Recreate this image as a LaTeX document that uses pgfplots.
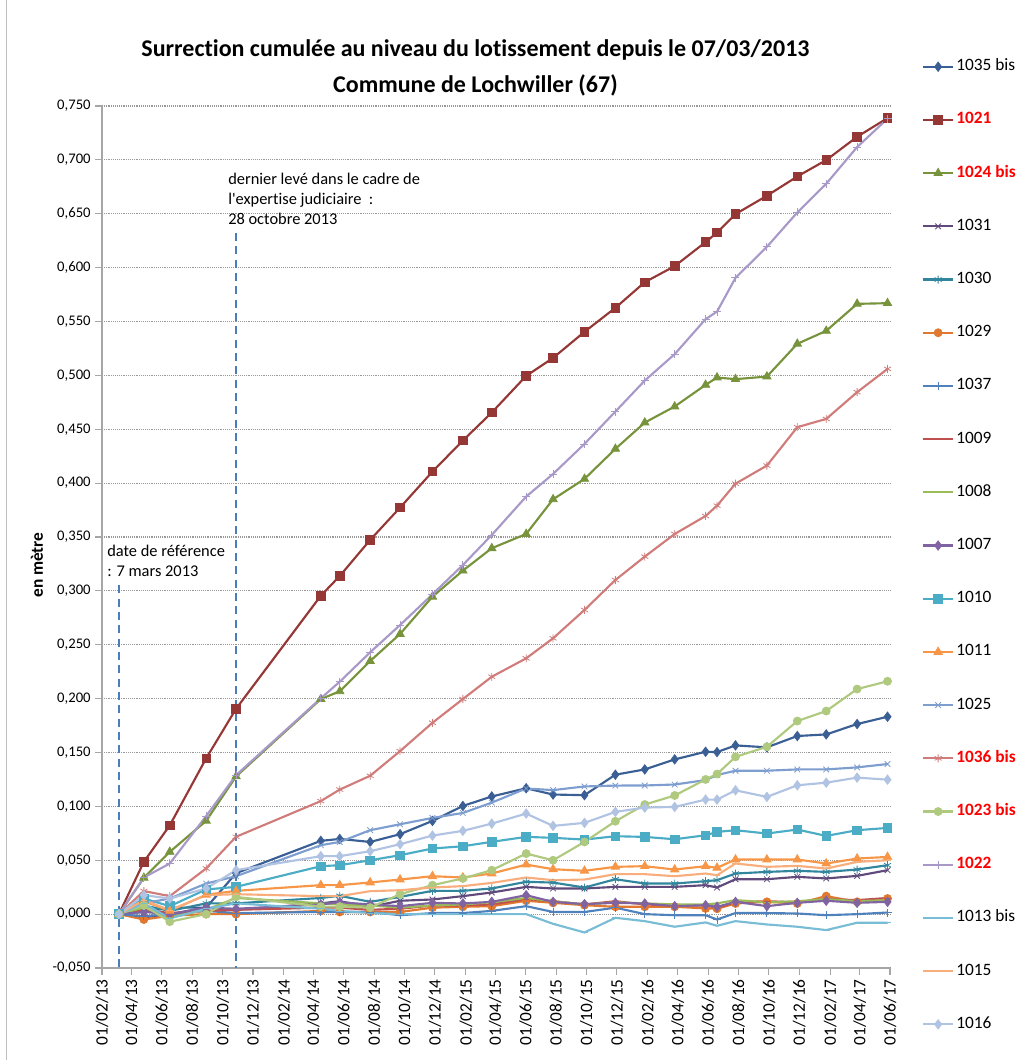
\documentclass[border=0pt]{standalone}
\usepackage{pgfplots}
\pgfplotsset{compat=1.18}
\usepackage{pgfplotstable}
\usepackage{fontspec}
\setmainfont{Carlito}[Ligatures={TeXOff,NoCommon}]
\definecolor{c1035}{HTML}{3A5F95}
\definecolor{c1021}{HTML}{953735}
\definecolor{c1024}{HTML}{77933C}
\definecolor{c1031}{HTML}{604A7B}
\definecolor{c1030}{HTML}{31859C}
\definecolor{c1029}{HTML}{E0782F}
\definecolor{c1037}{HTML}{4F81BD}
\definecolor{c1009}{HTML}{C0504D}
\definecolor{c1008}{HTML}{9BBB59}
\definecolor{c1007}{HTML}{8064A2}
\definecolor{c1010}{HTML}{4BACC6}
\definecolor{c1011}{HTML}{F79646}
\definecolor{c1025}{HTML}{7E9ECF}
\definecolor{c1036}{HTML}{D07C7A}
\definecolor{c1023}{HTML}{AFC97F}
\definecolor{c1022}{HTML}{A899C8}
\definecolor{c1013}{HTML}{78BCD6}
\definecolor{c1015}{HTML}{F8AE7C}
\definecolor{c1016}{HTML}{B1C3E2}
\definecolor{dashblue}{HTML}{4A7EBB}

\pgfplotstableread{
day a1035 a1021 a1024 a1031 a1030 a1029 a1037 a1009 a1008 a1007 a1010 a1011 a1025 a1036 a1023 a1022 a1013 a1015 a1016
34 0 0 0 0 0 0 0 0 0 0 0 0 0 0 0 0 0 0 0
84 0.002 0.0486 0.0337 -0.003 0.008 -0.005 -0.002 0.004 0.006 0.002 0.0145 0.012 0.010 0.0214 0.008 0.034 0.010 0.013 0.0176
136 0.006 0.0824 0.0578 0.000 0.003 -0.0015 0.000 0.001 -0.003 0.000 0.0074 0.003 0.0145 0.0167 -0.007 0.047 -0.004 0.0037 0.0145
209 0.006 0.1446 0.0866 0.006 0.010 0.000 0.003 0.003 0.004 0.006 0.0229 0.018 0.0284 0.0424 0.000 0.091 0.005 0.0176 0.0238
269 0.038 0.1906 0.1278 0.004 0.010 0.000 0.001 0.004 0.015 0.005 0.0253 0.0216 0.0352 0.0718 0.016 0.129 0.010 0.0185 0.0408
439 0.068 0.2955 0.1996 0.010 0.015 0.003 0.002 0.006 0.010 0.009 0.0445 0.0269 0.0640 0.1049 0.007 0.2003 0.005 0.0167 0.0538
477 0.0698 0.3138 0.2068 0.012 0.017 0.002 0.002 0.006 0.009 0.011 0.0454 0.0269 0.0670 0.1156 0.007 0.2157 0.003 0.0167 0.0538
538 0.067 0.3473 0.2349 0.0068 0.0114 0.002 0.002 0.004 0.008 0.009 0.0500 0.0294 0.0779 0.1284 0.006 0.2430 0.001 0.0213 0.0584
598 0.0742 0.3773 0.2600 0.0124 0.016 0.002 -0.001 0.005 0.006 0.0074 0.0547 0.0321 0.0834 0.1513 0.0185 0.2683 0.000 0.0222 0.0649
663 0.0865 0.4107 0.2946 0.0136 0.0216 0.006 0.001 0.008 0.008 0.0105 0.0609 0.0352 0.0893 0.1776 0.0269 0.2968 0.000 0.0247 0.0729
724 0.1004 0.4395 0.3188 0.0167 0.0216 0.0068 0.001 0.008 0.009 0.0099 0.0630 0.0340 0.0939 0.1996 0.0331 0.3240 0.000 0.0260 0.0773
782 0.1092 0.4655 0.3396 0.0201 0.0238 0.0074 0.003 0.009 0.011 0.0114 0.0671 0.0377 0.1035 0.2203 0.0408 0.3519 0.000 0.0290 0.0840
851 0.1168 0.4995 0.3528 0.0253 0.030 0.0124 0.0074 0.014 0.015 0.0176 0.0717 0.0460 0.1166 0.2374 0.0562 0.3875 0.000 0.0340 0.0933
905 0.1110 0.5162 0.3850 0.0238 0.0293 0.0105 0.002 0.012 0.012 0.0114 0.0708 0.0417 0.1151 0.2560 0.0500 0.4085 -0.009 0.0315 0.0819
968 0.1104 0.5404 0.4039 0.0238 0.0247 0.0083 0.002 0.009 0.009 0.0093 0.0692 0.0402 0.1185 0.2823 0.0670 0.4364 -0.017 0.0321 0.0847
1030 0.1294 0.5627 0.4318 0.0253 0.0324 0.0068 0.006 0.012 0.011 0.0105 0.0723 0.0439 0.1193 0.3101 0.0862 0.4664 -0.0034 0.0371 0.0949
1089 0.1343 0.5865 0.4562 0.0253 0.0284 0.0068 0.000 0.009 0.010 0.0099 0.0717 0.0445 0.1194 0.3318 0.1017 0.4952 -0.0065 0.0371 0.0989
1149 0.1436 0.6014 0.4711 0.0253 0.0284 0.0068 -0.001 0.008 0.009 0.0074 0.0695 0.0414 0.1203 0.3528 0.1101 0.5197 -0.0117 0.0352 0.0995
1211 0.1507 0.6237 0.4912 0.0269 0.0306 0.0053 -0.001 0.008 0.009 0.0083 0.0732 0.0445 0.1244 0.3695 0.1250 0.5522 -0.0077 0.0377 0.1063
1234 0.1504 0.6326 0.4980 0.0247 0.0315 0.005 -0.005 0.006 0.010 0.0068 0.0763 0.0430 0.1291 0.3791 0.1300 0.5592 -0.0108 0.0361 0.1063
1271 0.1566 0.6497 0.4965 0.0324 0.0377 0.0099 0.001 0.011 0.013 0.0114 0.0779 0.0507 0.1331 0.3995 0.1460 0.5905 -0.0065 0.0470 0.1149
1334 0.1548 0.6667 0.4989 0.0324 0.0392 0.0114 0.001 0.012 0.011 0.0074 0.0748 0.0507 0.1331 0.4163 0.1553 0.6193 -0.0096 0.0439 0.1088
1395 0.1653 0.6846 0.5293 0.0346 0.0402 0.0099 0.0006 0.011 0.012 0.0105 0.0785 0.0507 0.1343 0.4519 0.1792 0.6512 -0.0117 0.0448 0.1196
1453 0.1668 0.6998 0.5413 0.0331 0.0392 0.0167 -0.001 0.014 0.014 0.0124 0.0726 0.0470 0.1343 0.4596 0.1885 0.6778 -0.0148 0.0423 0.1220
1515 0.1764 0.7214 0.5664 0.0355 0.0414 0.0114 0.000 0.013 0.012 0.0105 0.0779 0.0516 0.1362 0.4844 0.2089 0.7119 -0.008 0.0485 0.1267
1576 0.1832 0.7388 0.5670 0.0408 0.0454 0.0145 0.0015 0.015 0.013 0.0114 0.0800 0.0531 0.1393 0.5060 0.2161 0.7382 -0.008 0.0500 0.1248
}\data

\pgfplotsset{
  ser/.style n args={3}{color=#1, line width=1.6pt, mark=#2, mark size=#3, mark options={solid, line width=0.6pt, fill=#1}},
}

\begin{document}
\begin{tikzpicture}
\path[use as bounding box] (0,0) rectangle (762.75pt,-795pt);
\draw[gray!50, line width=0.8pt] (5pt,0) -- (5pt,-795pt);
\begin{axis}[
  at={(76.5pt,-726pt)}, anchor=south west,
  width=591pt, height=646.5pt, scale only axis,
  xmin=0, xmax=1581, ymin=-0.05, ymax=0.75,
  axis x line*=bottom, axis y line*=left,
  axis line style={draw=gray!70, line width=0.8pt},
  xtick={0,59,120,181,242,303,365,424,485,546,607,668,730,789,850,911,972,1033,1095,1155,1216,1277,1338,1399,1461,1520,1581},
  xticklabels={01/02/13,01/04/13,01/06/13,01/08/13,01/10/13,01/12/13,01/02/14,01/04/14,01/06/14,01/08/14,01/10/14,01/12/14,01/02/15,01/04/15,01/06/15,01/08/15,01/10/15,01/12/15,01/02/16,01/04/16,01/06/16,01/08/16,01/10/16,01/12/16,01/02/17,01/04/17,01/06/17},
  x tick label style={rotate=90, anchor=east, font=\fontsize{13}{15}\selectfont},
  ytick={-0.05,0,0.05,0.1,0.15,0.2,0.25,0.3,0.35,0.4,0.45,0.5,0.55,0.6,0.65,0.7,0.75},
  yticklabels={{-0,050},{0,000},{0,050},{0,100},{0,150},{0,200},{0,250},{0,300},{0,350},{0,400},{0,450},{0,500},{0,550},{0,600},{0,650},{0,700},{0,750}},
  yticklabel style={font=\fontsize{11}{13}\selectfont},
  tick align=outside, major tick length=5pt,
  tick style={draw=gray!70, line width=0.8pt},
  ymajorgrids, grid style={densely dotted, gray!80, line width=0.8pt},
  clip=false,
  legend cell align=left,
  legend style={
    at={(axis description cs:1,1)}, anchor=north west,
    xshift=23.8pt, yshift=35.65pt,
    draw=none, fill=none, inner sep=0pt,
    row sep=27.9pt,
    font=\fontsize{13}{15}\selectfont,
    nodes={inner xsep=1.5pt, inner ysep=0pt, text height=9pt, text depth=3pt},
  },
  legend image code/.code={\draw[mark repeat=2,mark phase=2] plot coordinates {(0cm,0cm) (0.397cm,0cm) (0.794cm,0cm)};},
]
\addplot[ser={c1035}{diamond*}{3.5pt}] table[x=day,y=a1035] {\data};
\addlegendentry{1035 bis}
\addplot[ser={c1021}{square*}{3.2pt}] table[x=day,y=a1021] {\data};
\addlegendentry{\textcolor{red}{\textbf{1021}}}
\addplot[ser={c1024}{triangle*}{3.6pt}] table[x=day,y=a1024] {\data};
\addlegendentry{\textcolor{red}{\textbf{1024 bis}}}
\addplot[ser={c1031}{x}{3pt}] table[x=day,y=a1031] {\data};
\addlegendentry{1031}
\addplot[ser={c1030}{asterisk}{3pt}] table[x=day,y=a1030] {\data};
\addlegendentry{1030}
\addplot[ser={c1029}{*}{3pt}] table[x=day,y=a1029] {\data};
\addlegendentry{1029}
\addplot[ser={c1037}{+}{3pt}] table[x=day,y=a1037] {\data};
\addlegendentry{1037}
\addplot[ser={c1009}{-}{2.5pt}] table[x=day,y=a1009] {\data};
\addlegendentry{1009}
\addplot[ser={c1008}{-}{2.5pt}] table[x=day,y=a1008] {\data};
\addlegendentry{1008}
\addplot[ser={c1007}{diamond*}{3.5pt}] table[x=day,y=a1007] {\data};
\addlegendentry{1007}
\addplot[ser={c1010}{square*}{3.2pt}] table[x=day,y=a1010] {\data};
\addlegendentry{1010}
\addplot[ser={c1011}{triangle*}{3.6pt}] table[x=day,y=a1011] {\data};
\addlegendentry{1011}
\addplot[ser={c1025}{x}{3pt}] table[x=day,y=a1025] {\data};
\addlegendentry{1025}
\addplot[ser={c1036}{asterisk}{3pt}] table[x=day,y=a1036] {\data};
\addlegendentry{\textcolor{red}{\textbf{1036 bis}}}
\addplot[ser={c1023}{*}{3pt}] table[x=day,y=a1023] {\data};
\addlegendentry{\textcolor{red}{\textbf{1023 bis}}}
\addplot[ser={c1022}{+}{3pt}] table[x=day,y=a1022] {\data};
\addlegendentry{\textcolor{red}{\textbf{1022}}}
\addplot[ser={c1013}{-}{2.5pt}] table[x=day,y=a1013] {\data};
\addlegendentry{1013 bis}
\addplot[ser={c1015}{-}{2.5pt}] table[x=day,y=a1015] {\data};
\addlegendentry{1015}
\addplot[ser={c1016}{diamond*}{3.5pt}] table[x=day,y=a1016] {\data};
\addlegendentry{1016}
\draw[dashblue, line width=1.3pt, dash pattern=on 6pt off 4pt] (axis cs:34,0.305) -- (axis cs:34,-0.05);
\draw[dashblue, line width=1.3pt, dash pattern=on 6pt off 4pt] (axis cs:269,0.632) -- (axis cs:269,-0.05);
\end{axis}
\node[font=\fontsize{18}{22}\selectfont\bfseries] at (356.6pt,-37.5pt) {Surrection cumulée au niveau du lotissement depuis le 07/03/2013};
\node[font=\fontsize{18}{22}\selectfont\bfseries] at (356.6pt,-63.75pt) {Commune de Lochwiller (67)};
\node[rotate=90, font=\fontsize{13}{15}\selectfont\bfseries] at (27.75pt,-423.75pt) {en mètre};
\node[anchor=base west, inner sep=0pt, font=\fontsize{12.3}{15}\selectfont] at (80.25pt,-417pt) {date de référence};
\node[anchor=base west, inner sep=0pt, font=\fontsize{12.3}{15}\selectfont] at (80.25pt,-432pt) {: 7 mars 2013};
\node[anchor=base west, inner sep=0pt, font=\fontsize{12.3}{15}\selectfont] at (171pt,-138.5pt) {dernier levé dans le cadre de};
\node[anchor=base west, inner sep=0pt, font=\fontsize{12.3}{15}\selectfont] at (171pt,-153.5pt) {l'expertise judiciaire\ \ :};
\node[anchor=base west, inner sep=0pt, font=\fontsize{12.3}{15}\selectfont] at (171pt,-168.5pt) {28 octobre 2013};
\end{tikzpicture}
\end{document}
